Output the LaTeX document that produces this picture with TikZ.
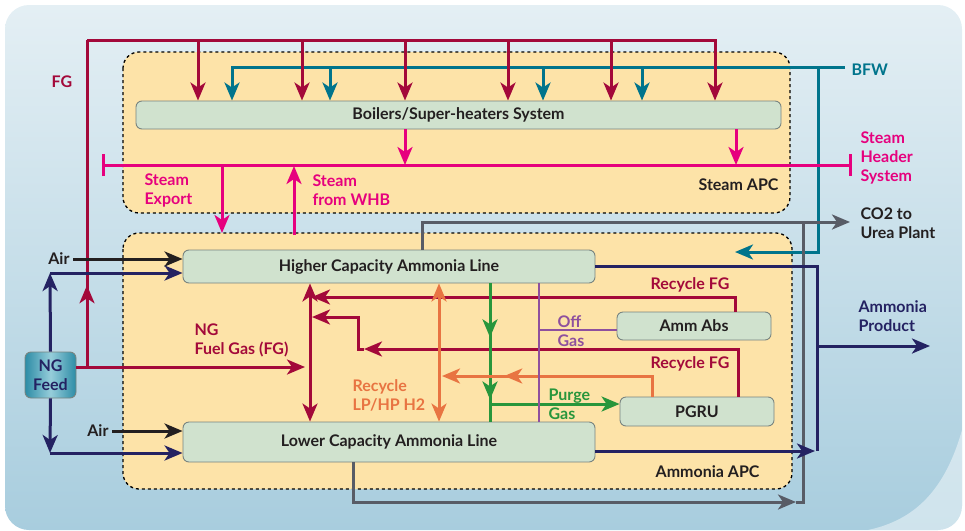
\documentclass[tikz,border=0pt]{standalone}
\usepackage{fontspec}
\setmainfont{Lato}
\usetikzlibrary{arrows.meta,positioning,decorations.markings}

\definecolor{fgred}{RGB}{163,9,58}
\definecolor{bfwteal}{RGB}{0,116,140}
\definecolor{steampink}{RGB}{230,0,126}
\definecolor{prodnavy}{RGB}{36,34,98}
\definecolor{co2gray}{RGB}{88,92,102}
\definecolor{h2orange}{RGB}{232,116,66}
\definecolor{purgegreen}{RGB}{40,150,60}
\definecolor{offpurple}{RGB}{142,80,158}
\definecolor{apcfill}{RGB}{253,227,168}
\definecolor{unitfill}{RGB}{208,226,206}
\definecolor{unitline}{RGB}{120,132,128}
\definecolor{bgtop}{RGB}{228,239,244}
\definecolor{bgbot}{RGB}{168,205,222}
\definecolor{feedlight}{RGB}{150,205,218}
\definecolor{feeddark}{RGB}{45,140,166}
\definecolor{inkdark}{RGB}{35,31,32}

\tikzset{
  unit/.style={draw=unitline, fill=unitfill, rounded corners=6pt, line width=0.9pt, text=inkdark, inner sep=0pt},
  feedbox/.style={draw=unitline, left color=feeddark, right color=feeddark, middle color=feedlight, rounded corners=6pt, line width=0.9pt, text=prodnavy, align=center, inner sep=0pt},
  apc/.style={draw=black, dashed, fill=apcfill, rounded corners=16pt, line width=1.3pt},
  fgline/.style={draw=fgred, line width=3pt},
  bfwline/.style={draw=bfwteal, line width=3pt},
  steamline/.style={draw=steampink, line width=3pt},
  navyline/.style={draw=prodnavy, line width=3pt},
  co2line/.style={draw=co2gray, line width=3pt},
  airline/.style={draw=inkdark, line width=3pt},
  h2line/.style={draw=h2orange, line width=3pt},
  purgeline/.style={draw=purgegreen, line width=3pt},
  offline/.style={draw=offpurple, line width=2.6pt},
  midarrow/.style={postaction={decorate,decoration={markings,mark=at position #1 with {\arrow{>}}}}}
}

\begin{document}
\begin{tikzpicture}[x=1pt,y=-1pt,>={Stealth[length=18pt,width=15pt,inset=5pt]},
  every node/.style={font=\fontsize{16}{19}\selectfont\bfseries, align=left}]
    \useasboundingbox (0,0) rectangle (965,530);
    \shade[top color=bgtop, bottom color=bgbot, rounded corners=24pt] (5,5) rectangle (962,530);
    \fill[white, opacity=0.45] (962,430) .. controls (945,490) and (915,520) .. (868,530) -- (962,530) -- cycle;

    \draw[apc] (123,52) rectangle (790,213);
    \draw[apc] (123,233) rectangle (792,489);

    \node[unit, minimum width=645pt, minimum height=28pt] (boil) at (458.5,115) {Boilers/Super-heaters System};
    \node[unit, minimum width=412pt, minimum height=33pt] (hcl) at (389,266.5) {Higher Capacity Ammonia Line};
    \node[unit, minimum width=412pt, minimum height=40pt] (lcl) at (389,442) {Lower Capacity Ammonia Line};
    \node[unit, minimum width=154pt, minimum height=28pt] (abs) at (694,326) {Amm Abs};
    \node[unit, minimum width=154pt, minimum height=29pt] (pgru) at (697,411.5) {PGRU};
    \node[feedbox, minimum width=51pt, minimum height=46pt] (feed) at (50.5,375) {NG\\Feed};

    \node[text=fgred] (fglbl) at (62,82) {FG};
    \node[text=bfwteal, anchor=west] (bfwlbl) at (848,70) {BFW};
    \node[text=steampink, anchor=west] (shlbl) at (857,158) {Steam\\Header\\System};
    \node[text=inkdark, anchor=east] (sapc) at (782,185) {Steam APC};
    \node[text=steampink, anchor=west] (explbl) at (141,190) {Steam\\Export};
    \node[text=steampink, anchor=west] (whblbl) at (309,190) {Steam\\from WHB};
    \node[text=inkdark, anchor=west] (co2lbl) at (857,223) {CO2 to\\Urea Plant};
    \node[text=inkdark, anchor=east] (air1) at (73,259) {Air};
    \node[text=inkdark, anchor=east] (air2) at (112,431) {Air};
    \node[text=fgred, anchor=west] (nglbl) at (191,340) {NG\\Fuel Gas (FG)};
    \node[text=fgred, anchor=west] (rfg1) at (647,285) {Recycle FG};
    \node[text=fgred, anchor=west] (rfg2) at (647,364) {Recycle FG};
    \node[text=offpurple, anchor=west] (offlbl) at (554,331) {Off\\Gas};
    \node[text=purgegreen, anchor=west] (purlbl) at (545,404) {Purge\\Gas};
    \node[text=h2orange, anchor=west] (h2lbl) at (349,395) {Recycle\\LP/HP H2};
    \node[text=prodnavy, anchor=west] (prodlbl) at (855,316) {Ammonia\\Product};
    \node[text=inkdark, anchor=east] (aapc) at (763,472) {Ammonia APC};

    \coordinate (bfwL) at (232,67);
    \coordinate (bfwR) at (845,67);
    \coordinate (bfwV) at (818,67);
    \coordinate (bfwA) at (735,252);
    \coordinate (fgL) at (87,40);
    \coordinate (fgR) at (715,40);
    \coordinate (fgjoin) at (87,367);
    \coordinate (ngfg) at (305,367);
    \coordinate (shL) at (102,165);
    \coordinate (shR) at (852,165);
    \coordinate (co2) at (850,222);
    \coordinate (urea) at (796,502);
    \coordinate (prodV) at (817,346);
    \coordinate (prodE) at (930,346);
    \coordinate (feedUp) at (50,273);
    \coordinate (feedDn) at (50,453);

    \draw[bfwline,->] (bfwR) -| (bfwL |- boil.north);
    \foreach \x in {330,543,642}
        \draw[bfwline,->] (\x,67) -- (\x,67 |- boil.north);
    \draw[bfwline,->] (bfwV) |- (bfwA);

    \draw[fgline,midarrow=0.25] (fgjoin) -- (fgL);
    \draw[fgline,->] (fgL) -| (fgR |- boil.north);
    \foreach \x in {198,302,405,508,611}
        \draw[fgline,->] (\x,40) -- (\x,40 |- boil.north);
    \draw[fgline,->] ([yshift=8pt]feed.east) -- (ngfg);

    \draw[steamline,{Bar[width=22pt]}-{Bar[width=22pt]}] (shL) -- (shR);
    \foreach \x in {405,736}
        \draw[steamline,->] (boil.south -| \x,0) -- (\x,165);
    \draw[steamline,->] (222,165) -- (222,233);
    \draw[steamline,->] (294,235) -- (294,166);

    \draw[co2line,->] (hcl.north -| 422,0) |- (co2);
    \draw[co2line,->] (lcl.south -| 353,0) |- (urea);
    \draw[co2line] (urea) -| (803,222);

    \draw[navyline] (hcl.east) -| (817,451);
    \draw[navyline,->] ([yshift=-9pt]lcl.east) -- (815,451);
    \draw[navyline,->] (prodV) -- (prodE);
    \draw[navyline,->] (feed.north) -- (feedUp);
    \draw[navyline,->] (feedUp) -- (feedUp -| hcl.west);
    \draw[navyline,->] (feed.south) -- (feedDn);
    \draw[navyline,->] (feedDn) -- (feedDn -| lcl.west);

    \draw[airline,->] (air1.east) -- (air1.east -| hcl.west);
    \draw[airline,->] (air2.east) -- (air2.east -| lcl.west);

    \draw[fgline,<->] (hcl.south -| 310,0) -- (lcl.north -| 310,0);
    \draw[fgline,->] (abs.north -| 735,0) |- (312,297);
    \draw[fgline,->] (pgru.north -| 738,0) |- (364,349);
    \draw[fgline,->] (364,349) -- (358,349) |- (312,317);

    \draw[h2line,<->] (hcl.south -| 439,0) -- (lcl.north -| 439,0);
    \draw[purgeline,midarrow=0.39,midarrow=0.84] (hcl.south -| 490,0) -- (lcl.north -| 490,0);
    \draw[purgeline,->] (490,404) -- (pgru.west |- 0,404);
    \draw[h2line,->,midarrow=0.73] (pgru.north -| 652,0) |- (442,376);
    \draw[offline] (hcl.south -| 539,0) -- (lcl.north -| 539,0);
    \draw[offline] (539,330) -- (abs.west |- 0,330);
\end{tikzpicture}
\end{document}
